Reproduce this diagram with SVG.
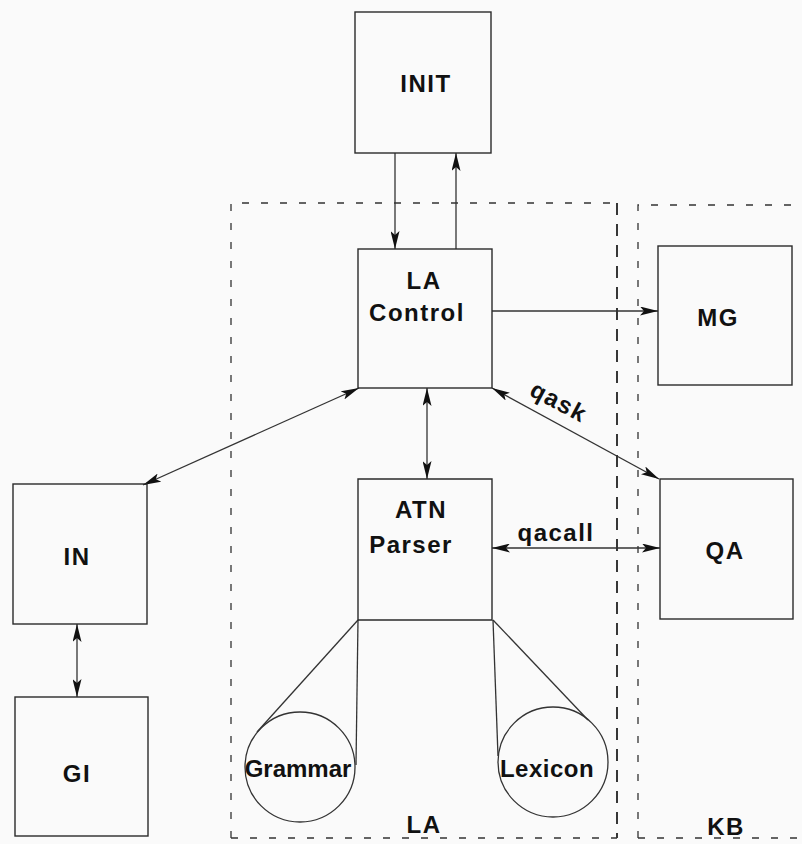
<svg xmlns="http://www.w3.org/2000/svg" width="802" height="844" viewBox="0 0 802 844">
<defs>
<style>
.box{fill:none;stroke:#2a2a2a;stroke-width:1.4}
.region{fill:none;stroke:#333;stroke-width:1.3;stroke-dasharray:7 12}
.heavy{fill:none;stroke:#222;stroke-width:1.8;stroke-dasharray:12 9}
.ln{fill:none;stroke:#333;stroke-width:1.3}
.t{font-family:"Liberation Sans",Arial,sans-serif;font-size:24px;font-weight:bold;fill:#111;text-anchor:middle;letter-spacing:1.5px}
</style>
<marker id="ah" viewBox="0 0 18 9" refX="18" refY="4.5" markerWidth="18" markerHeight="9" markerUnits="userSpaceOnUse" orient="auto-start-reverse">
<path d="M0,0 L18,4.5 L0,9 L4,4.5 Z" fill="#111"/>
</marker>
</defs>
<rect width="802" height="844" fill="#fafafa"/>
<g id="regions">
<path class="region" d="M231,838 L231,203 L617,203"/>
<path class="heavy" d="M617,203 L617,838"/>
<path class="region" d="M231,838 L617,838"/>
<path class="region" d="M638,838 L638,205 L802,205"/>
<path class="region" d="M638,838 L802,838"/>
</g>
<g id="connectors">
<line class="ln" x1="395" y1="153" x2="395" y2="249" marker-end="url(#ah)"/>
<line class="ln" x1="456" y1="249" x2="456" y2="153" marker-end="url(#ah)"/>
<line class="ln" x1="492" y1="311" x2="658" y2="311" marker-end="url(#ah)"/>
<line class="ln" x1="427" y1="388" x2="427" y2="479" marker-start="url(#ah)" marker-end="url(#ah)"/>
<line class="ln" x1="492" y1="388" x2="659" y2="479" marker-start="url(#ah)" marker-end="url(#ah)"/>
<line class="ln" x1="492" y1="548" x2="660" y2="548" marker-start="url(#ah)" marker-end="url(#ah)"/>
<line class="ln" x1="359" y1="388" x2="143" y2="485" marker-start="url(#ah)" marker-end="url(#ah)"/>
<line class="ln" x1="77" y1="624" x2="77" y2="697" marker-start="url(#ah)" marker-end="url(#ah)"/>
<line class="ln" x1="358" y1="620" x2="257" y2="732"/>
<line class="ln" x1="358" y1="620" x2="356" y2="765"/>
<line class="ln" x1="493" y1="620" x2="498" y2="756"/>
<line class="ln" x1="493" y1="620" x2="588" y2="720"/>
<text class="t" transform="translate(555,409) rotate(28)">qask</text>
<text class="t" x="556" y="541">qacall</text>
</g>
<g id="INIT"><rect class="box" x="355" y="12" width="136" height="141"/><text class="t" x="426" y="92">INIT</text></g>
<g id="LAControl"><rect class="box" x="358" y="249" width="134" height="139"/><text class="t" x="424" y="289">LA</text><text class="t" x="417" y="321">Control</text></g>
<g id="MG"><rect class="box" x="658" y="246" width="134" height="139"/><text class="t" x="718" y="326">MG</text></g>
<g id="ATNParser"><path class="box" d="M358,620 L358,479 L492,479 L492,620 Z"/><text class="t" x="421" y="518">ATN</text><text class="t" x="411" y="553">Parser</text></g>
<g id="QA"><rect class="box" x="660" y="479" width="133" height="140"/><text class="t" x="725" y="559">QA</text></g>
<g id="IN"><rect class="box" x="13" y="484" width="134" height="140"/><text class="t" x="77" y="565">IN</text></g>
<g id="GI"><rect class="box" x="15" y="697" width="133" height="139"/><text class="t" x="77" y="782">GI</text></g>
<g id="Grammar"><circle class="ln" cx="300" cy="767" r="55"/><text class="t" x="298" y="777" style="letter-spacing:0">Grammar</text></g>
<g id="Lexicon"><circle class="ln" cx="553" cy="762" r="55"/><text class="t" x="547" y="777" style="letter-spacing:0.5px">Lexicon</text></g>
<g id="labels"><text class="t" x="424" y="833">LA</text><text class="t" x="726" y="835">KB</text></g>
</svg>
